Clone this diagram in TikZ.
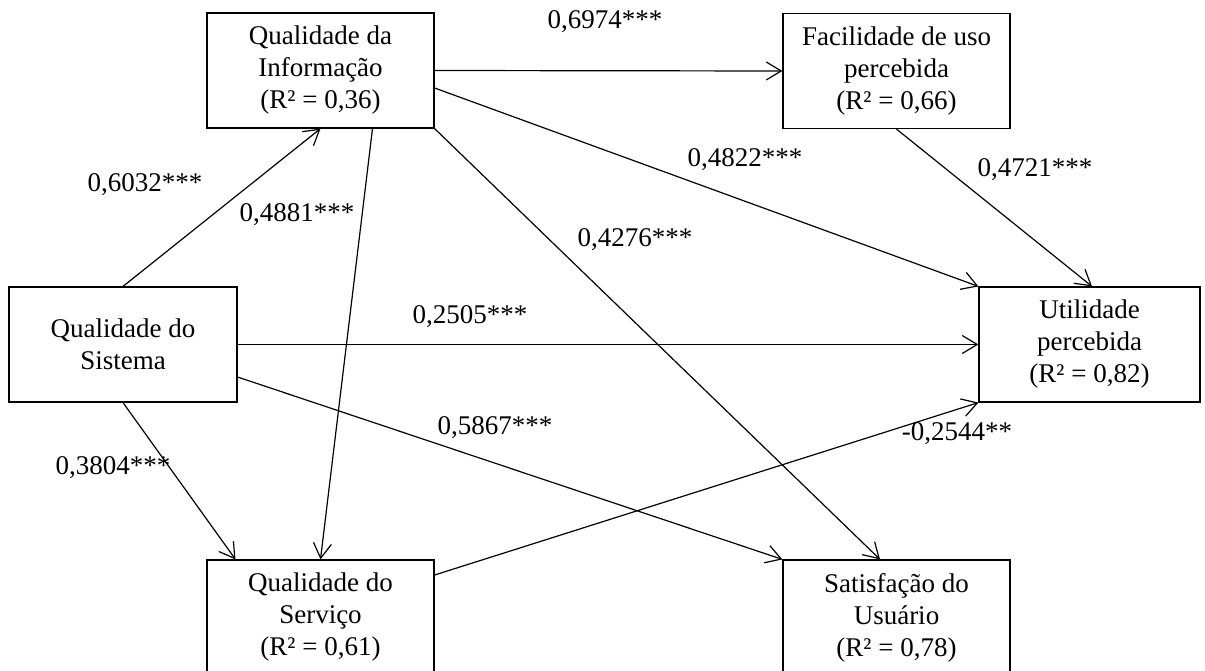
\documentclass[tikz,border=0pt]{standalone}
\usepackage{fontspec}
\setmainfont{Liberation Serif}
\usetikzlibrary{arrows.meta}

\tikzset{
  construct/.style={draw, line width=1.2pt, minimum width=227pt, minimum height=115pt,
    align=center, inner sep=0pt},
  coef/.style={inner sep=0pt},
  path/.style={-{Straight Barb[length=15pt,width=18pt]}, line width=1.2pt}
}

\begin{document}
\begin{tikzpicture}[x=1pt, y=-1pt, font=\fontsize{27pt}{32pt}\selectfont]
        \clip (0, 0) rectangle (1205, 671);
        % Constructs
        \node[construct] (qi) at (320.5, 70.5) {Qualidade da\\Informação\\(R² = 0,36)};
        \node[construct] (fu) at (896.5, 71) {Facilidade de uso\\percebida\\(R² = 0,66)};
        \node[construct, minimum width=228pt] (qs) at (123, 344.5) {Qualidade do\\Sistema};
        \node[construct, minimum width=221pt] (up) at (1089.5, 344.5) {Utilidade\\percebida\\(R² = 0,82)};
        \node[construct] (ser) at (320.5, 617.5) {Qualidade do\\Serviço\\(R² = 0,61)};
        \node[construct] (sat) at (896.5, 617.5) {Satisfação do\\Usuário\\(R² = 0,78)};

        % Arrows
        \draw[path] (qi.east) -- (fu.west);
        \draw[path] (qs.north) -- (qi.south);
        \draw[path] ([xshift=52pt]qi.south) -- (ser.north);
        \draw[path] (qs.south) -- ([xshift=-85pt]ser.north);
        \draw[path] ([yshift=-17.5pt]qi.east) -- (up.north west);
        \draw[path] (qi.south east) -- ([xshift=-16.5pt]sat.north);
        \draw[path] (fu.south) -- ([xshift=2.5pt]up.north);
        \draw[path] (qs.east) -- (up.west);
        \draw[path] ([yshift=-32.5pt]qs.east) -- (sat.north west);
        \draw[path] ([yshift=42.5pt]ser.east) -- (up.south west);

        % Coefficients
        \node[coef] (c1) at (605, 22) {0,6974***};
        \node[coef] (c2) at (145, 185) {0,6032***};
        \node[coef] (c3) at (297, 215) {0,4881***};
        \node[coef] (c4) at (745, 160) {0,4822***};
        \node[coef] (c5) at (1035, 170) {0,4721***};
        \node[coef] (c6) at (635, 240) {0,4276***};
        \node[coef] (c7) at (470, 317) {0,2505***};
        \node[coef] (c8) at (495, 428) {0,5867***};
        \node[coef] (c9) at (113, 468) {0,3804***};
        \node[coef] (c10) at (957, 434) {-0,2544**};
    \end{tikzpicture}
\end{document}
